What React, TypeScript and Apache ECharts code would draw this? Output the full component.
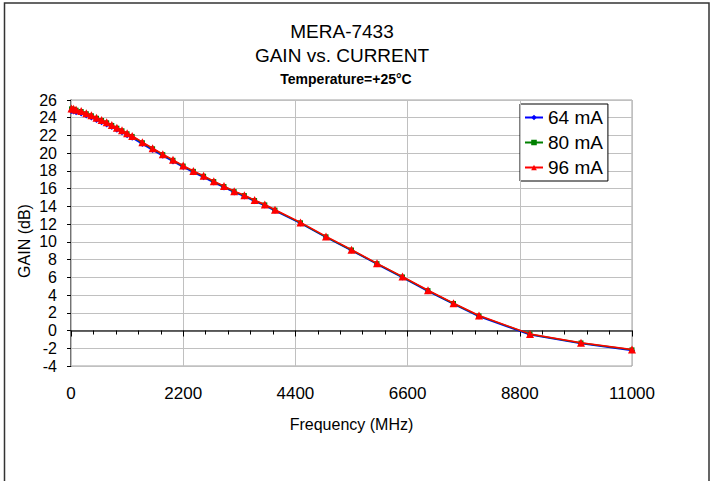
import React, { useEffect, useRef } from "react";
import * as echarts from "echarts";

const FONT = "'Liberation Sans', Arial, Helvetica, sans-serif";

const frequencies = [
  10, 50, 100, 200, 300, 400, 500, 600, 700, 800, 900, 1000, 1100, 1200, 1400, 1600, 1800, 2000,
  2200, 2400, 2600, 2800, 3000, 3200, 3400, 3600, 3800, 4000, 4500, 5000, 5500, 6000, 6500, 7000,
  7500, 8000, 9000, 10000, 11000,
];

const gain64 = [
  24.75, 24.7, 24.62, 24.48, 24.24, 24.02, 23.75, 23.5, 23.24, 22.95, 22.65, 22.36, 22.03, 21.73,
  21.03, 20.36, 19.7, 19.07, 18.43, 17.84, 17.29, 16.7, 16.14, 15.58, 15.13, 14.58, 14.09, 13.5,
  12.08, 10.51, 9.02, 7.48, 5.98, 4.43, 2.98, 1.58, -0.48, -1.47, -2.25,
];

const gain80 = [
  25.0, 24.95, 24.85, 24.7, 24.45, 24.22, 23.94, 23.69, 23.43, 23.13, 22.82, 22.53, 22.19, 21.89,
  21.18, 20.5, 19.84, 19.2, 18.55, 17.95, 17.4, 16.8, 16.24, 15.67, 15.22, 14.66, 14.17, 13.58,
  12.15, 10.57, 9.08, 7.54, 6.04, 4.5, 3.05, 1.65, -0.41, -1.4, -2.18,
];

const gain96 = [
  25.05, 25.0, 24.9, 24.76, 24.5, 24.28, 24.0, 23.75, 23.49, 23.19, 22.88, 22.59, 22.25, 21.95,
  21.24, 20.56, 19.89, 19.25, 18.6, 18.0, 17.45, 16.85, 16.29, 15.72, 15.27, 14.71, 14.22, 13.62,
  12.19, 10.61, 9.12, 7.58, 6.08, 4.54, 3.09, 1.69, -0.38, -1.37, -2.15,
];

const seriesNames = ["64 mA", "80 mA", "96 mA"];
const seriesColors = ["#0000ff", "#008000", "#ff0000"];
const seriesSymbols = ["diamond", "rect", "triangle"];
const seriesSymbolSizes = [6, 5, 8];

const titleLines = ["MERA-7433", "GAIN vs. CURRENT"];
const subTitle = "Temperature=+25°C";
const xName = "Frequency (MHz)";
const yName = "GAIN (dB)";

export default function App() {
  const ref = useRef<HTMLDivElement>(null);

  useEffect(() => {
    if (!ref.current) return;
    const chart = echarts.init(ref.current, undefined, { renderer: "svg" });
    const allGains = [gain64, gain80, gain96];

    const option: any = {
      animation: false,
      backgroundColor: "#ffffff",
      textStyle: { fontFamily: FONT },
      grid: {
        left: 71,
        right: 83,
        top: 100,
        bottom: 115,
        show: true,
        borderColor: "#a0a0a0",
        borderWidth: 1,
        backgroundColor: "transparent",
      },
      legend: {
        orient: "vertical",
        left: 520,
        top: 104,
        padding: [4, 5, 4, 4],
        itemWidth: 18,
        itemHeight: 7,
        itemGap: 6,
        borderColor: "#000",
        borderWidth: 1,
        backgroundColor: "#fff",
        textStyle: { fontSize: 19, color: "#000", fontFamily: FONT, lineHeight: 19 },
        data: seriesNames,
      },
      xAxis: [
        {
          type: "value",
          min: 0,
          max: 11000,
          interval: 2200,
          axisLine: { show: true, onZero: true, lineStyle: { color: "#333", width: 1.5 } },
          axisTick: { show: true, length: 6, lineStyle: { color: "#000", width: 1 } },
          minorTick: { show: true, splitNumber: 5, length: 4, lineStyle: { color: "#000", width: 1 } },
          axisLabel: { show: false },
          splitLine: { show: true, lineStyle: { color: "#c0c0c0", width: 1 } },
          z: 5,
        },
        {
          type: "value",
          min: 0,
          max: 11000,
          interval: 2200,
          position: "bottom",
          axisLine: { show: false, onZero: false },
          axisTick: { show: false },
          splitLine: { show: false },
          axisLabel: {
            show: true,
            fontSize: 17,
            margin: 19,
            color: "#000",
            fontFamily: FONT,
            formatter: (v: number) => String(v),
          },
          name: xName,
          nameLocation: "middle",
          nameGap: 50,
          nameTextStyle: { fontSize: 16, color: "#000", fontFamily: FONT },
        },
      ],
      yAxis: {
        type: "value",
        min: -4,
        max: 26,
        interval: 2,
        axisLine: { show: true, onZero: false, lineStyle: { color: "#555", width: 1.5 } },
        axisTick: { show: true, length: 4, lineStyle: { color: "#000", width: 1 } },
        axisLabel: {
          show: true,
          fontSize: 16,
          margin: 14,
          color: "#000",
          fontFamily: FONT,
          formatter: (v: number) => String(v),
        },
        splitLine: { show: true, lineStyle: { color: "#c0c0c0", width: 1 } },
      },
      series: seriesNames.map((name, i) => ({
        name,
        type: "line",
        xAxisIndex: 0,
        yAxisIndex: 0,
        data: frequencies.map((f, j) => [f, allGains[i][j]]),
        symbol: seriesSymbols[i],
        symbolSize: seriesSymbolSizes[i],
        showAllSymbol: true,
        color: seriesColors[i],
        itemStyle: { color: seriesColors[i] },
        lineStyle: { color: seriesColors[i], width: 1.5 },
        z: 10 + i,
      })),
      graphic: [
        {
          type: "rect",
          shape: { x: 4.5, y: 3, width: 704.5, height: 500 },
          style: { fill: "none", stroke: "#333", lineWidth: 1.5 },
          silent: true,
          z: -10,
        },
        {
          type: "text",
          x: 342,
          y: 31.5,
          style: {
            text: titleLines[0],
            fontSize: 19,
            fontFamily: FONT,
            fill: "#000",
            align: "center",
            verticalAlign: "middle",
          },
        },
        {
          type: "text",
          x: 342,
          y: 55.5,
          style: {
            text: titleLines[1],
            fontSize: 19,
            fontFamily: FONT,
            fill: "#000",
            align: "center",
            verticalAlign: "middle",
          },
        },
        {
          type: "text",
          x: 346,
          y: 79.3,
          style: {
            text: subTitle,
            fontSize: 14,
            fontWeight: "bold",
            fontFamily: FONT,
            fill: "#000",
            align: "center",
            verticalAlign: "middle",
          },
        },
        {
          type: "text",
          x: 24,
          y: 241,
          rotation: Math.PI / 2,
          style: {
            text: yName,
            fontSize: 16,
            fontFamily: FONT,
            fill: "#000",
            align: "center",
            verticalAlign: "middle",
          },
        },
      ],
    };

    chart.setOption(option);
    return () => chart.dispose();
  }, []);

  return (
    <div
      ref={ref}
      style={{ position: "fixed", left: 0, top: 0, width: 715, height: 481, background: "#fff" }}
    />
  );
}
